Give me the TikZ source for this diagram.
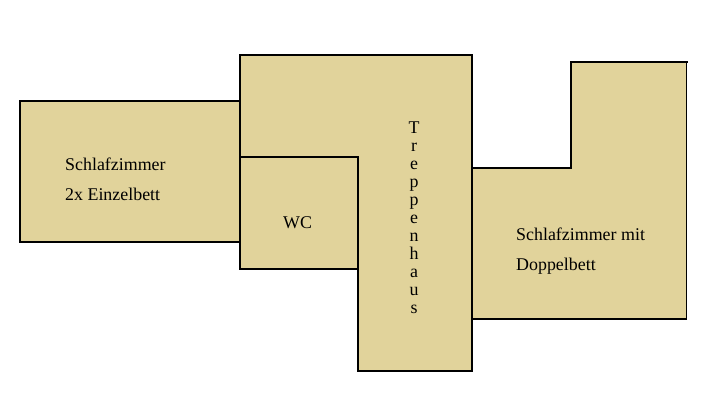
\documentclass[tikz,border=0pt]{standalone}
\usepackage{fontspec}
\setmainfont{Liberation Serif}
\definecolor{room}{HTML}{E1D39B}
\tikzset{wall/.style={draw=black,line width=2pt,line cap=rect},
thinwall/.style={draw=black,line width=1.4pt,line cap=rect},
lbl/.style={inner sep=0pt,anchor=base west,font=\fontsize{17.9pt}{20pt}\selectfont},
vlbl/.style={inner sep=0pt,anchor=base,font=\fontsize{17.9pt}{20pt}\selectfont}}
\begin{document}
\begin{tikzpicture}[x=1pt,y=-1pt]
\useasboundingbox (0,0) rectangle (704,415);
\fill[white] (0,0) rectangle (704,415);
\fill[room] (20,101) rectangle (240,242);
\fill[room] (240,55) rectangle (472,157);
\fill[room] (240,157) rectangle (358,269);
\fill[room] (358,157) rectangle (472,371);
\fill[room] (472,168) rectangle (687,319);
\fill[room] (571,62) rectangle (687,168);
\draw[wall] (240,101) -- (20,101) -- (20,242) -- (240,242);
\draw[wall] (240,269) -- (240,55) -- (472,55) -- (472,371) -- (358,371) -- (358,157) -- (240,157);
\draw[wall] (240,269) -- (358,269);
\draw[wall] (472,168) -- (571,168) -- (571,62) -- (686.6,62);
\draw[thinwall] (686.7,62) -- (686.7,319) -- (472,319);
\node[lbl] (a) at (65,170) {Schlafzimmer};
\node[lbl] (b) at (65,200) {2x Einzelbett};
\node[lbl] (c) at (283,228) {WC};
\node[lbl] (d) at (516,240) {Schlafzimmer mit};
\node[lbl] (e) at (516,270) {Doppelbett};
\foreach \t [count=\i from 0] in {T,r,e,p,p,e,n,h,a,u,s}
  \node[vlbl] (t\i) at (414,{133+\i*18}) {\t};
\end{tikzpicture}
\end{document}
